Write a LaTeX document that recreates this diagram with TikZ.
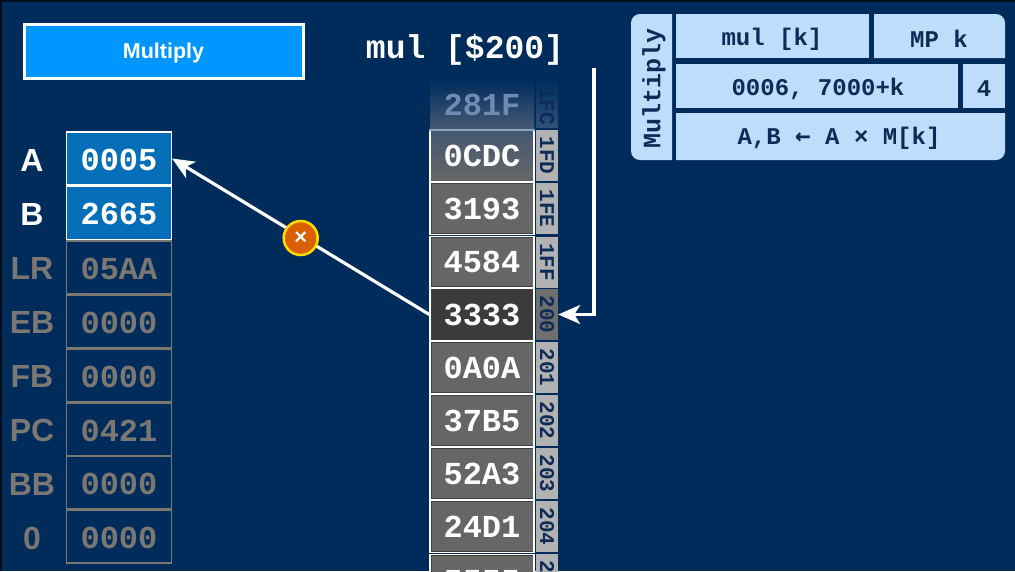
\documentclass[tikz,border=0pt]{standalone}
\usepackage{fontspec}
\setmainfont{Liberation Sans}
\setmonofont{Liberation Mono}
\newfontfamily\symbfont{DejaVu Sans Mono}
\usetikzlibrary{positioning,arrows.meta}
\definecolor{navy}{HTML}{002C5C}
\definecolor{ink}{HTML}{0E2B58}
\definecolor{paleblue}{HTML}{BDDDFB}
\definecolor{dimgray}{HTML}{7B7772}
\definecolor{regblue}{HTML}{056EB8}
\definecolor{brightblue}{HTML}{0096FF}
\definecolor{fadegray}{HTML}{445873}
\definecolor{fadeblue}{HTML}{30507A}
\definecolor{fadeline}{HTML}{8CA5BE}
\definecolor{fadetext}{HTML}{6E8CB2}
\definecolor{markfill}{HTML}{D95F00}
\definecolor{markline}{HTML}{FFDC00}
\begin{document}
\begin{tikzpicture}[x=1pt, y=-1pt,
    reglabel/.style={font=\fontsize{32}{32}\bfseries, text=white, inner sep=0pt},
    reglabeldim/.style={reglabel, text=dimgray},
    regcell/.style={draw=white, line width=1.2pt, fill=regblue, text=white, text height=23.5pt,
      minimum width=105pt, minimum height=53pt, inner sep=0pt, font=\fontsize{32}{32}\ttfamily\bfseries},
    regcelldim/.style={regcell, draw=dimgray, fill=navy, text=dimgray},
    memcell/.style={draw=white, line width=1.4pt, fill=black!60, text=white, text height=22pt,
      minimum width=104pt, minimum height=51.5pt, inner sep=0pt, font=\fontsize{32}{32}\ttfamily\bfseries,
      path picture={\draw[black!75, line width=3pt] (path picture bounding box.south west)
        rectangle (path picture bounding box.north east);}},
    addr/.style={fill=black!30, text=ink, rotate=-90, minimum width=51pt, minimum height=22pt,
      inner sep=0pt, font=\fontsize{21}{21}\ttfamily\bfseries},
    cardtext/.style={text=ink, inner sep=0pt, font=\fontsize{24}{24}\ttfamily\bfseries},
    wire/.style={draw=white, line width=3.2pt, -{Stealth[length=22pt, width=19pt, inset=6pt]}}]
  \clip (0,0) rectangle (1015,571);
  % Background
  \fill[navy] (0,0) rectangle (1015,571);
  \fill[black!70!navy] (0,0) rectangle (1015,2);
  \fill[black!70!navy] (0,0) rectangle (2,571);
  % Title button
  \node[draw=white, line width=3pt, fill=brightblue, text=white,
    minimum width=279pt, minimum height=54pt, inner sep=0pt, text height=20pt,
    font=\fontsize{21.5}{21.5}\bfseries] (title) at (163.5,51) {Multiply};
  % Instruction
  \node[text=white, inner sep=0pt, font=\fontsize{33}{33}\ttfamily\bfseries] (instr) at (465,50) {mul [\$200]};
  % Registers
  \node[regcell] (regA) at (119,158.5) {0005};
  \node[regcell] (regB) at (119,213) {2665};
  \node[regcelldim] (regLR) at (119,267.5) {05AA};
  \node[regcelldim] (regEB) at (119,321.5) {0000};
  \node[regcelldim] (regFB) at (119,375.5) {0000};
  \node[regcelldim] (regPC) at (119,429.5) {0421};
  \node[regcelldim] (regBB) at (119,482.5) {0000};
  \node[regcelldim] (regZero) at (119,536.5) {0000};
  \node[reglabel] (labA) at (32,160) {A};
  \node[reglabel] (labB) at (32,214) {B};
  \node[reglabeldim] (labLR) at (32,268) {LR};
  \node[reglabeldim] (labEB) at (32,322) {EB};
  \node[reglabeldim] (labFB) at (32,376) {FB};
  \node[reglabeldim] (labPC) at (32,430) {PC};
  \node[reglabeldim] (labBB) at (32,484) {BB};
  \node[reglabeldim] (labZero) at (32,538) {0};
  % Memory column
  \node[memcell, path picture={}, top color=fadegray, bottom color=black!60] (mem1FD) at (482,155.5) {0CDC};
  \node[memcell] (mem1FE) at (482,208.5) {3193};
  \node[memcell] (mem1FF) at (482,262) {4584};
  \node[memcell, fill=black!77] (mem200) at (482,314.5) {3333};
  \node[memcell] (mem201) at (482,367.5) {0A0A};
  \node[memcell] (mem202) at (482,420.5) {37B5};
  \node[memcell] (mem203) at (482,473.5) {52A3};
  \node[memcell] (mem204) at (482,526.5) {24D1};
  \node[memcell] (mem205) at (482,580.5) {5555};
  \node[addr] (addr1FD) at (547,155.5) {1FD};
  \node[addr] (addr1FE) at (547,208.5) {1FE};
  \node[addr] (addr1FF) at (547,262) {1FF};
  \node[addr, fill=black!57] (addr200) at (547,314.5) {200};
  \node[addr] (addr201) at (547,367.5) {201};
  \node[addr] (addr202) at (547,420.5) {202};
  \node[addr] (addr203) at (547,473.5) {203};
  \node[addr] (addr204) at (547,526.5) {204};
  \node[addr] (addr205) at (547,579.5) {205};
  % Faded memory row
  \path[top color=navy, bottom color=fadegray] (430,80) rectangle (534,128);
  \path[top color=navy, bottom color=fadeblue] (536,80) rectangle (558,127);
  \draw[line width=2pt, fadeline] (429,129.5) -- (535,129.5);
  \node[text=fadetext, inner sep=0pt, font=\fontsize{32}{32}\ttfamily\bfseries] (mem1FC) at (482,105) {281F};
  \node[addr, fill=none, minimum width=40pt] (addr1FC) at (547,106) {1FC};
  % Instruction card
  \fill[paleblue] (672,14) [rounded corners=9pt] -- (631,14) -- (631,160) [sharp corners] -- (672,160) -- cycle;
  \fill[paleblue] (676,14) rectangle (869,58);
  \fill[paleblue] (874,14) [rounded corners=9pt] -- (1005,14) [sharp corners] -- (1005,58) -- (874,58) -- cycle;
  \fill[paleblue] (676,64) rectangle (958,108);
  \fill[paleblue] (963,64) rectangle (1005,108);
  \fill[paleblue] (676,113) -- (1005,113) [rounded corners=9pt] -- (1005,160) [sharp corners] -- (676,160) -- cycle;
  \node[rotate=90, cardtext, font=\fontsize{25}{25}\ttfamily\bfseries] (cardName) at (654,88) {Multiply};
  \node[cardtext] (cardMnem) at (772,39) {mul [k]};
  \node[cardtext] (cardAsm) at (939,39) {MP k};
  \node[cardtext] (cardCode) at (818,89) {0006, 7000+k};
  \node[cardtext] (cardCycles) at (984,89) {4};
  \node[cardtext] (cardEffect) at (839,138) {A,B {\symbfont\bfseries\fontsize{26}{26}\selectfont ←} A × M[k]};
  % Memory to register
  \draw[wire] (mem200.west) -- (regA.east)
    node[midway, yshift=-1.5pt, circle, draw=markline, line width=2.5pt, fill=markfill,
      text=white, minimum size=34pt, inner sep=0pt, font=\fontsize{22}{22}\bfseries] (overflow) {×};
  % Address pointer
  \coordinate (ptrTop) at (594,68);
  \draw[wire] (ptrTop) |- (addr200.north);
\end{tikzpicture}
\end{document}
